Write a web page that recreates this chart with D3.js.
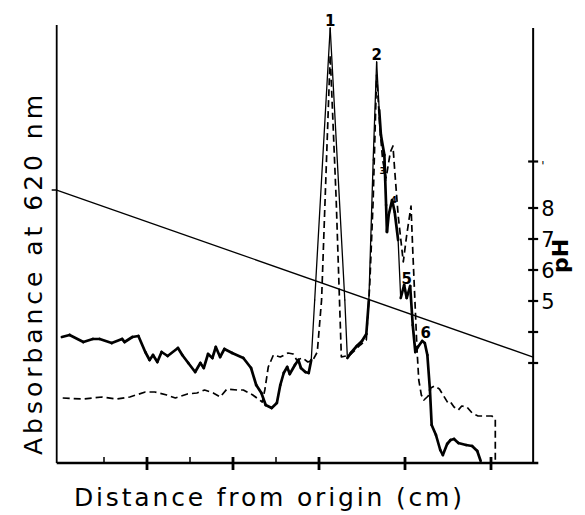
<!DOCTYPE html>
<html><head><meta charset="utf-8">
<script src="https://cdn.jsdelivr.net/npm/d3@7"></script>
<style>html,body{margin:0;padding:0;background:#fff}</style>
</head><body>
<svg id="chart" width="585" height="515"></svg>
<script>
// ---- data (distance in cm, absorbance at 620 nm, pH) ----
const solidDistance = [0.01,0.10,0.26,0.37,0.45,0.59,0.71,0.74,0.83,0.90,0.98,1.03,1.07,1.12,1.17,1.24,1.36,1.41,1.48,1.56,1.62,1.66,1.71,1.76,1.80,1.85,1.90,1.99,2.12,2.21,2.27,2.33,2.38,2.45,2.51,2.55,2.59,2.63,2.66,2.72,2.76,2.79,2.84,2.88,2.91,2.95,3.13,3.30,3.33,3.37,3.44,3.50,3.55,3.58,3.63,3.67,3.70,3.72,3.76,3.77,3.78,3.79,3.81,3.85,3.88,3.92,3.95,3.99,4.02,4.06,4.09,4.12,4.15,4.20,4.23,4.26,4.29,4.31,4.36,4.41,4.44,4.49,4.53,4.57,4.62,4.71,4.78,4.84,4.88];
const solidAbsorbance = [0.625,0.635,0.60,0.615,0.615,0.595,0.615,0.60,0.625,0.63,0.55,0.51,0.535,0.50,0.55,0.53,0.57,0.535,0.495,0.45,0.495,0.47,0.54,0.52,0.575,0.525,0.565,0.545,0.52,0.47,0.385,0.345,0.285,0.27,0.295,0.385,0.445,0.475,0.44,0.485,0.51,0.47,0.45,0.445,0.51,0.81,2.17,0.81,0.52,0.545,0.58,0.605,0.64,0.81,1.51,2.00,1.76,1.635,1.535,1.41,1.285,1.15,1.235,1.31,1.25,1.11,0.82,0.885,0.82,0.88,0.685,0.55,0.575,0.605,0.595,0.535,0.36,0.185,0.135,0.06,0.035,0.09,0.11,0.115,0.095,0.085,0.08,0.055,0.005];

const dashedDistance = [0.02,0.26,0.37,0.48,0.65,0.80,0.98,1.09,1.23,1.33,1.47,1.58,1.67,1.77,1.85,1.93,2.05,2.12,2.23,2.34,2.37,2.41,2.47,2.55,2.64,2.70,2.74,2.81,2.87,2.93,2.98,3.03,3.13,3.20,3.26,3.36,3.48,3.55,3.59,3.63,3.67,3.71,3.74,3.78,3.83,3.86,3.88,3.92,3.98,4.02,4.07,4.09,4.12,4.14,4.16,4.19,4.22,4.27,4.30,4.34,4.40,4.45,4.50,4.53,4.57,4.62,4.66,4.72,4.78,4.85,5.01,5.05,5.05];
const dashedAbsorbance = [0.32,0.315,0.32,0.325,0.315,0.325,0.35,0.35,0.335,0.32,0.34,0.345,0.36,0.345,0.325,0.365,0.36,0.36,0.335,0.30,0.36,0.475,0.535,0.525,0.545,0.54,0.51,0.52,0.50,0.51,0.55,0.81,2.035,1.31,0.525,0.535,0.585,0.61,0.885,1.31,1.935,1.66,1.51,1.42,1.55,1.58,1.46,1.235,1.00,1.135,1.28,1.06,0.76,0.56,0.41,0.335,0.31,0.33,0.37,0.38,0.365,0.33,0.295,0.30,0.275,0.26,0.28,0.275,0.245,0.23,0.23,0.215,0.01];

const phLineDistance = [-0.05, 5.49];
const phLineValues = [8.58, 3.19];

const distanceMajorTicks = [1,2,3,4,5];
const distanceMinorTicks = [0.5,1.5,2.5];
const phTicks = [3,4,5,6,7,8,9.5];
const phTickLabels = ["","","5","6","7","8","'"];

const peakLabels = ["1","2","3","4","5","6"];
const peakLabelDistance = [3.13,3.67,3.74,3.87,4.02,4.24];
const peakLabelAbsorbance = [2.18,2.01,1.44,1.295,0.89,0.62];

const xTitle = "Distance from origin (cm)";
const yTitle = "Absorbance at 620 nm";
const y2Title = "pH";

// ---- drawing ----
const svg = d3.select("#chart");
const x = d3.scaleLinear().domain([0,5]).range([61,491]);
const y = d3.scaleLinear().domain([0,2.185]).range([462,25]);
const yPH = d3.scaleLinear().domain([3,9.5]).range([363,161.5]);
const font = "'DejaVu Sans', sans-serif";

// axes frame
const xAxisY = y(0)+1;
svg.append("line").attr("x1",x(-0.05)).attr("x2",x(5.55)).attr("y1",xAxisY).attr("y2",xAxisY)
  .attr("stroke","#000").attr("stroke-width",2.6);
svg.append("line").attr("x1",x(-0.05)).attr("x2",x(-0.05)).attr("y1",y(2.185)).attr("y2",xAxisY)
  .attr("stroke","#000").attr("stroke-width",1.8);
const rightX = x(5.49);
svg.append("line").attr("x1",rightX).attr("x2",rightX).attr("y1",y(2.17)).attr("y2",xAxisY)
  .attr("stroke","#000").attr("stroke-width",2);

// bottom ticks
svg.selectAll(".xmaj").data(distanceMajorTicks).join("line")
  .attr("x1",d=>x(d)).attr("x2",d=>x(d)).attr("y1",xAxisY-6).attr("y2",xAxisY+7)
  .attr("stroke","#000").attr("stroke-width",2.8);
svg.selectAll(".xmin").data(distanceMinorTicks).join("line")
  .attr("x1",d=>x(d)).attr("x2",d=>x(d)).attr("y1",xAxisY-6).attr("y2",xAxisY)
  .attr("stroke","#000").attr("stroke-width",1.5);

// left tick where pH line starts
svg.append("line").attr("x1",x(-0.05)-5).attr("x2",x(-0.05)).attr("y1",yPH(phLineValues[0])).attr("y2",yPH(phLineValues[0]))
  .attr("stroke","#000").attr("stroke-width",1.5);

// right pH ticks + labels
svg.selectAll(".phtick").data(phTicks).join("line")
  .attr("x1",rightX-5).attr("x2",rightX+5).attr("y1",d=>yPH(d)).attr("y2",d=>yPH(d))
  .attr("stroke","#000").attr("stroke-width",2.2);
svg.selectAll(".phlab").data(phTicks).join("text")
  .attr("x",rightX+8).attr("y",d=>yPH(d)+8)
  .attr("font-family",font).attr("font-size",(d,i)=>phTickLabels[i]==="'"?12:21)
  .text((d,i)=>phTickLabels[i]);

// pH gradient line
const phLine = d3.line().x(d=>x(d[0])).y(d=>yPH(d[1]));
svg.append("path").datum(d3.zip(phLineDistance,phLineValues)).attr("d",phLine)
  .attr("fill","none").attr("stroke","#000").attr("stroke-width",1.3);

// dashed trace
const absLine = d3.line().x(d=>x(d[0])).y(d=>y(d[1]));
svg.append("path").datum(d3.zip(dashedDistance,dashedAbsorbance)).attr("d",absLine)
  .attr("fill","none").attr("stroke","#000").attr("stroke-width",1.7)
  .attr("stroke-dasharray","7,4").attr("stroke-linejoin","round");

// solid trace: drawn segment by segment, steep pen strokes thinner
const solidPts = d3.zip(solidDistance,solidAbsorbance);
const segs = d3.pairs(solidPts);
svg.selectAll(".seg").data(segs).join("path")
  .attr("d",d=>absLine(d))
  .attr("fill","none").attr("stroke","#000")
  .attr("stroke-linecap","round")
  .attr("stroke-width",d=>{
    const dy=Math.abs(y(d[1][1])-y(d[0][1]));
    return dy>40?1.3:2.7;
  });

// peak labels
svg.selectAll(".peak").data(peakLabels).join("text")
  .attr("x",(d,i)=>x(peakLabelDistance[i])).attr("y",(d,i)=>y(peakLabelAbsorbance[i]))
  .attr("text-anchor","middle").attr("font-family",font)
  .attr("font-weight","bold")
  .attr("font-size",d=>(d==="3"||d==="4")?9:15)
  .text(d=>d);

// titles
svg.append("text").attr("transform","translate(42,275) rotate(-90)")
  .attr("text-anchor","middle").attr("font-family",font).attr("font-size",25)
  .attr("textLength",360).attr("lengthAdjust","spacing").text(yTitle);
svg.append("text").attr("x",268).attr("y",506)
  .attr("text-anchor","middle").attr("font-family",font).attr("font-size",25)
  .attr("textLength",388).attr("lengthAdjust","spacing").text(xTitle);
svg.append("text").attr("transform","translate(568,256) rotate(-90)")
  .attr("text-anchor","middle").attr("font-family",font).attr("font-size",22).attr("font-weight","bold")
  .text(y2Title);
</script>
</body></html>
